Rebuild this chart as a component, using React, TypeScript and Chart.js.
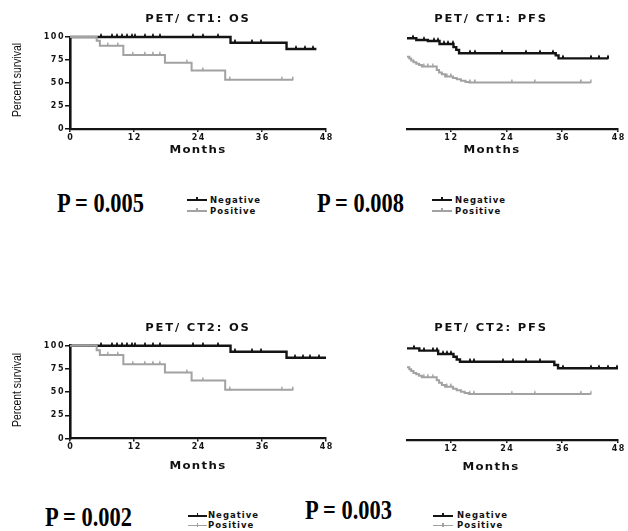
import React, { useEffect, useRef } from 'react';
import { Chart, registerables } from 'chart.js';

Chart.register(...registerables);

// ---------- text & ticks ----------
const PANEL_TITLES = ['PET/ CT1: OS', 'PET/ CT1: PFS', 'PET/ CT2: OS', 'PET/ CT2: PFS'];
const P_VALUES = ['P = 0.005', 'P = 0.008', 'P = 0.002', 'P = 0.003'];
const SERIES_NAMES = ['Negative', 'Positive'];
const X_TITLE = 'Months';
const Y_TITLE = 'Percent survival';
const MONTH_TICKS_OS = [0, 12, 24, 36, 48];
const MONTH_TICKS_PFS = [12, 24, 36, 48];
const SURVIVAL_TICKS = [0, 25, 50, 75, 100];

// ---------- PET/CT1 : OS ----------
const os1NegTime = [0, 30.1, 40.6, 46.2];
const os1NegSurv = [100, 93.8, 87, 87];
const os1NegCensor = [5.9, 7.8, 8.8, 9.7, 10.6, 11.6, 12.2, 14.1, 15.6, 16.9, 23.0, 25.0, 27.8, 30.9, 34.1, 35.9, 42.3, 44.0, 45.6];
const os1PosTime = [0, 5.0, 5.6, 10.0, 17.8, 22.8, 29.1, 41.8];
const os1PosSurv = [100, 96, 90.5, 80.5, 72, 63.5, 53.5, 53.5];
const os1PosCensor = [7.1, 9.0, 11.8, 14.1, 15.6, 16.9, 21.9, 24.9, 30.0, 39.7, 41.8];

// ---------- PET/CT1 : PFS ----------
const pfs1NegTime = [2.6, 4.6, 7.1, 9.6, 12.6, 13.2, 13.8, 34.6, 35.2, 45.9];
const pfs1NegSurv = [98.6, 96.7, 95.6, 92.4, 89, 86, 82.3, 80, 76.8, 76.8];
const pfs1NegCensor = [3.9, 6.2, 8.4, 9.3, 10.6, 11.5, 12.4, 16.2, 17.3, 23.1, 28.1, 31.2, 34.0, 36.2, 42.1, 44.0, 45.9];
const pfs1PosTime = [2.6, 3.1, 3.5, 4.0, 4.6, 5.2, 5.8, 9.0, 9.5, 10.1, 10.8, 12.5, 13.3, 14.2, 15.2, 16.0, 42.1];
const pfs1PosSurv = [78.6, 76.5, 74.5, 72.5, 71, 69.5, 67.8, 64, 61.5, 59.5, 57, 55.5, 54, 52.5, 51.2, 50.5, 50.5];
const pfs1PosCensor = [6.2, 7.1, 8.1, 11.2, 12.1, 16.2, 17.3, 25.1, 30.1, 40.1, 42.1];

// ---------- PET/CT2 : OS ----------
const os2NegTime = [0, 30.1, 40.6, 48];
const os2NegSurv = [100, 93.5, 87, 87];
const os2NegCensor = [5.9, 7.8, 8.8, 9.7, 10.6, 11.6, 12.2, 14.1, 15.6, 16.9, 23.0, 25.0, 27.8, 30.9, 34.1, 35.9, 42.2, 43.7, 45.0, 46.6];
const os2PosTime = [0, 5.0, 5.6, 10.0, 17.8, 22.8, 29.1, 41.8];
const os2PosSurv = [100, 95, 90, 80, 71, 62.5, 52.5, 52.5];
const os2PosCensor = [7.1, 9.0, 11.8, 14.1, 15.6, 16.9, 21.9, 24.9, 30.0, 39.7, 41.8];

// ---------- PET/CT2 : PFS ----------
const pfs2NegTime = [2.6, 5.25, 9.3, 12.6, 13.3, 14.0, 34.3, 35.1, 48];
const pfs2NegSurv = [99.1, 96.6, 93.0, 90, 87, 84.6, 81, 77.5, 77.5];
const pfs2NegCensor = [4.0, 6.2, 8.1, 9.0, 10.3, 11.2, 12.1, 16.1, 17.1, 23.2, 25.3, 28.2, 31.2, 36.2, 42.1, 44.0, 45.9, 47.8];
const pfs2PosTime = [2.6, 3.1, 3.5, 4.0, 4.6, 5.2, 5.8, 9.0, 9.5, 10.1, 10.8, 12.5, 13.3, 14.2, 15.0, 15.9, 42.1];
const pfs2PosSurv = [78.6, 76.5, 74.5, 72.5, 71, 69.5, 67.8, 64.5, 62, 59.5, 57.6, 55.5, 53.8, 52.2, 50.8, 49.7, 49.7];
const pfs2PosCensor = [6.2, 7.1, 8.1, 11.2, 12.1, 16.1, 17.1, 25.1, 30.1, 40.1, 42.1];

// ---------- styling ----------
const BLACK = '#141414';
const GREY = '#a2a2a2';
const TICK_SPACING = 1.5;

type Box = { left: number; top: number; width: number; height: number };
type Area = { left: number; top: number; right: number; bottom: number };

const stepPoints = (t: number[], s: number[]) => t.map((x, i) => ({ x, y: s[i] }));
const censorPoints = (t: number[], s: number[], c: number[]) =>
  c.map((x) => {
    let y = s[0];
    for (let i = 0; i < t.length; i++) if (t[i] <= x) y = s[i];
    return { x, y };
  });

// small upward tick used as the censor mark (drawn centred on the point)
function makeCensorMark(color: string, w: number) {
  const c = document.createElement('canvas');
  c.width = 2;
  c.height = 9;
  const g = c.getContext('2d') as CanvasRenderingContext2D;
  g.fillStyle = color;
  g.fillRect(0, 1.5, w, 3.5);
  return c;
}

const spacingPlugin = {
  id: 'letterSpacing',
  beforeUpdate(chart: any) { chart.ctx.letterSpacing = `${TICK_SPACING}px`; },
  beforeLayout(chart: any) { chart.ctx.letterSpacing = `${TICK_SPACING}px`; },
  beforeDraw(chart: any) { chart.ctx.letterSpacing = `${TICK_SPACING}px`; },
};

type PanelProps = {
  box: Box;
  area: Area;
  xMin: number;
  xTicks: number[];
  showY: boolean;
  negT: number[]; negS: number[]; negC: number[];
  posT: number[]; posS: number[]; posC: number[];
};

function KMPanel(p: PanelProps) {
  const ref = useRef<HTMLCanvasElement>(null);
  useEffect(() => {
    const { box, area } = p;
    const yWidth = area.left - box.left;
    const xHeight = box.top + box.height - area.bottom;
    const tickFont = { family: 'DejaVu Sans', weight: 'bold' as const, size: 8 };
    const negMark = makeCensorMark(BLACK, 2);
    const posMark = makeCensorMark(GREY, 1.6);
    const chart = new Chart(ref.current as HTMLCanvasElement, {
      type: 'line',
      data: {
        datasets: [
          { label: SERIES_NAMES[0], data: stepPoints(p.negT, p.negS), stepped: 'before', borderColor: BLACK, borderWidth: 2.4, pointRadius: 0, order: 2, clip: 3 },
          { label: SERIES_NAMES[1], data: stepPoints(p.posT, p.posS), stepped: 'before', borderColor: GREY, borderWidth: 2, pointRadius: 0, order: 1, clip: 3 },
          { label: SERIES_NAMES[0] + ' censored', data: censorPoints(p.negT, p.negS, p.negC), showLine: false, pointStyle: negMark, pointRadius: 3, borderColor: BLACK, order: 0, clip: 8 },
          { label: SERIES_NAMES[1] + ' censored', data: censorPoints(p.posT, p.posS, p.posC), showLine: false, pointStyle: posMark, pointRadius: 3, borderColor: GREY, order: 0, clip: 8 },
        ] as any,
      },
      options: {
        animation: false,
        responsive: false,
        events: [],
        layout: {
          padding: {
            left: p.showY ? 0 : yWidth,
            top: area.top - box.top,
            right: box.left + box.width - area.right,
            bottom: 0,
          },
        },
        plugins: { legend: { display: false }, tooltip: { enabled: false }, title: { display: false } },
        scales: {
          x: {
            type: 'linear',
            min: p.xMin,
            max: 48,
            afterBuildTicks: (s: any) => { s.ticks = p.xTicks.map((v) => ({ value: v })); },
            afterFit: (s: any) => { s.height = xHeight; },
            border: { display: true, color: BLACK, width: 2.2 },
            grid: { display: true, drawOnChartArea: false, drawTicks: true, tickLength: 3, color: BLACK, lineWidth: 1.5 },
            ticks: { font: tickFont, color: BLACK, padding: 1, maxRotation: 0, autoSkip: false, labelOffset: TICK_SPACING / 2 },
          },
          y: {
            type: 'linear',
            display: p.showY,
            min: 0,
            max: 100,
            afterBuildTicks: (s: any) => { s.ticks = SURVIVAL_TICKS.map((v) => ({ value: v })); },
            afterFit: (s: any) => { s.width = yWidth; },
            border: { display: true, color: BLACK, width: 2.6 },
            grid: { display: true, drawOnChartArea: false, drawTicks: true, tickLength: 5, color: BLACK, lineWidth: 1.5 },
            ticks: { font: tickFont, color: BLACK, padding: 0, autoSkip: false },
          },
        },
      } as any,
      plugins: [spacingPlugin],
    });
    return () => chart.destroy();
  }, []);
  return (
    <canvas
      ref={ref}
      width={p.box.width}
      height={p.box.height}
      style={{ position: 'absolute', left: p.box.left, top: p.box.top, width: p.box.width, height: p.box.height }}
    />
  );
}

const sansBold = "'DejaVu Sans', 'Liberation Sans', sans-serif";

function CenterText({ text, cx, cy, size, spacing, stretch = 1 }: { text: string; cx: number; cy: number; size: number; spacing: number; stretch?: number }) {
  return (
    <div
      style={{
        position: 'absolute', left: cx - 100 + spacing / 2, top: cy - size / 2, width: 200, textAlign: 'center',
        fontFamily: sansBold, fontWeight: 'bold', fontSize: size, lineHeight: `${size}px`, letterSpacing: spacing,
        color: '#111', whiteSpace: 'nowrap', transform: `scaleX(${stretch})`, transformOrigin: 'center center',
      }}
    >{text}</div>
  );
}

function YTitle({ cx, cy }: { cx: number; cy: number }) {
  return (
    <div
      style={{
        position: 'absolute', left: cx - 60, top: cy - 7, width: 120, height: 14, textAlign: 'center',
        fontFamily: "'Liberation Sans Narrow', 'Liberation Sans', sans-serif",
        fontSize: 13, lineHeight: '14px', color: '#111', transform: 'rotate(-90deg) scaleX(0.8)', whiteSpace: 'nowrap',
      }}
    >{Y_TITLE}</div>
  );
}

function PValue({ text, left, baseline }: { text: string; left: number; baseline: number }) {
  const size = 27;
  return (
    <div
      style={{
        position: 'absolute', left, top: baseline - 0.8375 * size, fontFamily: "'Liberation Serif', 'Times New Roman', serif",
        fontWeight: 'bold', fontSize: size, lineHeight: `${size}px`, color: '#000', whiteSpace: 'nowrap',
        transform: 'scaleX(0.83)', transformOrigin: 'left center',
      }}
    >{text}</div>
  );
}

function LegendRow({ x1, x2, y, textLeft, color, thick, label }: { x1: number; x2: number; y: number; textLeft: number; color: string; thick: number; label: string }) {
  const mid = (x1 + x2) / 2;
  return (
    <>
      <div style={{ position: 'absolute', left: x1, top: y - thick / 2, width: x2 - x1, height: thick, background: color }} />
      <div style={{ position: 'absolute', left: mid - 0.75, top: y - 3, width: 1.5, height: 4, background: color }} />
      <div
        style={{
          position: 'absolute', left: textLeft, top: y - 4.25, fontFamily: sansBold, fontWeight: 'bold', fontSize: 8.5,
          lineHeight: '8.5px', letterSpacing: 1, color: '#111', whiteSpace: 'nowrap',
        }}
      >{label}</div>
    </>
  );
}

function Legend({ x1, x2, y1, y2, textLeft }: { x1: number; x2: number; y1: number; y2: number; textLeft: number }) {
  return (
    <>
      <LegendRow x1={x1} x2={x2} y={y1} textLeft={textLeft} color={BLACK} thick={2} label={SERIES_NAMES[0]} />
      <LegendRow x1={x1} x2={x2} y={y2} textLeft={textLeft} color={GREY} thick={1.5} label={SERIES_NAMES[1]} />
    </>
  );
}

export default function App() {
  return (
    <div style={{ position: 'absolute', left: 0, top: 0, width: 628, height: 531, overflow: 'hidden', background: '#fff' }}>
      <KMPanel
        box={{ left: 0, top: 0, width: 345, height: 160 }}
        area={{ left: 70, top: 37, right: 326, bottom: 129 }}
        xMin={0} xTicks={MONTH_TICKS_OS} showY={true}
        negT={os1NegTime} negS={os1NegSurv} negC={os1NegCensor}
        posT={os1PosTime} posS={os1PosSurv} posC={os1PosCensor}
      />
      <KMPanel
        box={{ left: 345, top: 0, width: 283, height: 160 }}
        area={{ left: 376, top: 37, right: 618, bottom: 129 }}
        xMin={2.6} xTicks={MONTH_TICKS_PFS} showY={false}
        negT={pfs1NegTime} negS={pfs1NegSurv} negC={pfs1NegCensor}
        posT={pfs1PosTime} posS={pfs1PosSurv} posC={pfs1PosCensor}
      />
      <KMPanel
        box={{ left: 0, top: 300, width: 345, height: 175 }}
        area={{ left: 70, top: 345.7, right: 326, bottom: 438.5 }}
        xMin={0} xTicks={MONTH_TICKS_OS} showY={true}
        negT={os2NegTime} negS={os2NegSurv} negC={os2NegCensor}
        posT={os2PosTime} posS={os2PosSurv} posC={os2PosCensor}
      />
      <KMPanel
        box={{ left: 345, top: 300, width: 283, height: 175 }}
        area={{ left: 376, top: 347.5, right: 618, bottom: 440 }}
        xMin={2.6} xTicks={MONTH_TICKS_PFS} showY={false}
        negT={pfs2NegTime} negS={pfs2NegSurv} negC={pfs2NegCensor}
        posT={pfs2PosTime} posS={pfs2PosSurv} posC={pfs2PosCensor}
      />

      <CenterText text={PANEL_TITLES[0]} cx={197} cy={18.5} size={10} spacing={1.6} stretch={1.15} />
      <CenterText text={PANEL_TITLES[1]} cx={490} cy={18.5} size={10} spacing={1.6} stretch={1.15} />
      <CenterText text={PANEL_TITLES[2]} cx={197} cy={327.5} size={10} spacing={1.6} stretch={1.15} />
      <CenterText text={PANEL_TITLES[3]} cx={490} cy={327.5} size={10} spacing={1.6} stretch={1.15} />

      <CenterText text={X_TITLE} cx={197.5} cy={149} size={10.5} spacing={1.2} stretch={1.12} />
      <CenterText text={X_TITLE} cx={491} cy={149} size={10.5} spacing={1.2} stretch={1.12} />
      <CenterText text={X_TITLE} cx={197} cy={465} size={10.5} spacing={1.2} stretch={1.12} />
      <CenterText text={X_TITLE} cx={490} cy={466} size={10.5} spacing={1.2} stretch={1.12} />

      <YTitle cx={17} cy={80} />
      <YTitle cx={17} cy={390} />

      <PValue text={P_VALUES[0]} left={57} baseline={213} />
      <PValue text={P_VALUES[1]} left={317} baseline={213} />
      <PValue text={P_VALUES[2]} left={45} baseline={527} />
      <PValue text={P_VALUES[3]} left={305} baseline={520} />

      <Legend x1={187} x2={207} y1={200} y2={211} textLeft={210} />
      <Legend x1={432} x2={452} y1={200} y2={211} textLeft={455} />
      <Legend x1={188} x2={207} y1={515.5} y2={525.5} textLeft={208} />
      <Legend x1={433} x2={453} y1={515.5} y2={525.5} textLeft={457} />
    </div>
  );
}
